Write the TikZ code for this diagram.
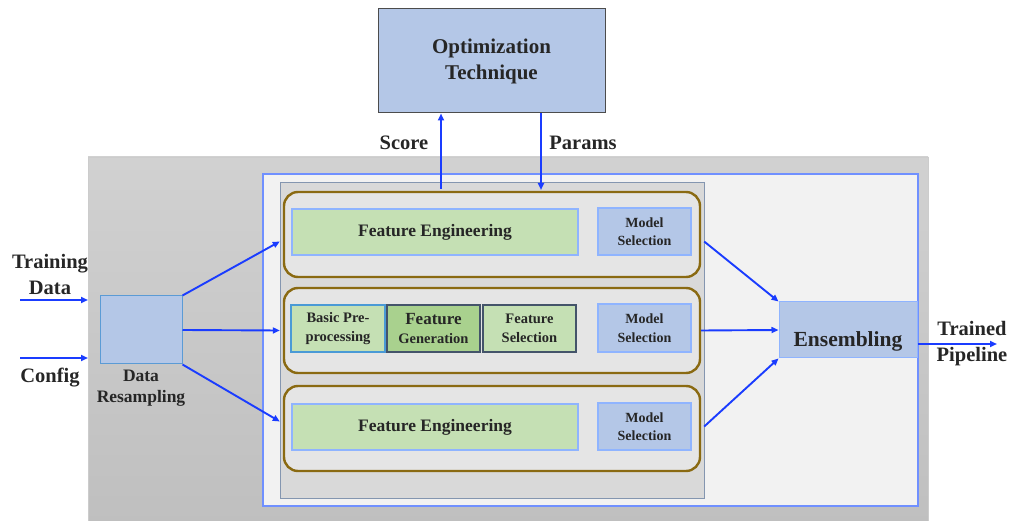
\documentclass[tikz,border=0pt]{standalone}
\usepackage{fontspec}
\setmainfont{Liberation Serif}
\usetikzlibrary{arrows.meta,calc}
\definecolor{txt}{HTML}{262626}
\definecolor{arrowblue}{HTML}{1A3CFF}
\definecolor{panelbd}{HTML}{7090FF}
\definecolor{panelfill}{HTML}{F2F2F2}
\definecolor{innerfill}{HTML}{D9D9D9}
\definecolor{innerbd}{HTML}{8496B0}
\definecolor{rowbd}{HTML}{8A6A12}
\definecolor{rowfill}{HTML}{E5E5E5}
\definecolor{lgreen}{HTML}{C5E0B4}
\definecolor{dgreen}{HTML}{A9D18E}
\definecolor{lblue}{HTML}{B4C7E7}
\definecolor{lbluebd}{HTML}{8FB4FF}
\definecolor{slatebd}{HTML}{44546A}
\definecolor{cyanbd}{HTML}{4A9AD6}
\definecolor{drbd}{HTML}{5B9BD5}
\tikzset{
  box/.style={draw, line width=1.2pt, inner sep=0pt, align=center, text=txt, font=\bfseries},
  rowbox/.style={draw=rowbd, fill=rowfill, line width=2.4pt, rounded corners=14pt, minimum width=416pt, minimum height=85pt, inner sep=0pt},
  febox/.style={box, draw=lbluebd, fill=lgreen, minimum width=286pt, minimum height=46pt, font=\bfseries\fontsize{17.5}{20}\selectfont},
  msbox/.style={box, draw=lbluebd, fill=lblue, minimum width=93pt, minimum height=47pt, font=\bfseries\fontsize{14}{18.5}\selectfont},
  smallbox/.style={box, minimum width=93pt, minimum height=47pt, font=\bfseries\fontsize{14.5}{19}\selectfont},
  lbl/.style={text=txt, align=center, inner sep=0pt, font=\bfseries\fontsize{20.5}{26}\selectfont},
  flow/.style={draw=arrowblue, line width=1.9pt, -{Triangle[length=7pt,width=6pt]}}
}
\begin{document}
\begin{tikzpicture}[x=1pt,y=-1pt]
\useasboundingbox (0,0) rectangle (1013,521);
% background panels
\shade[top color=black!18, bottom color=black!25] (88,157) rectangle (928,521);
\draw[draw=black!20, line width=0.6pt] (88,521) -- (88,157) -- (928,157) -- (928,521);
\draw[draw=panelbd, fill=panelfill, line width=1.5pt] (263,174) rectangle (918,506);
\draw[draw=innerbd, fill=innerfill, line width=1pt] (280,183) rectangle (704,498);
% optimization
\node[box, draw=black!70, fill=lblue, minimum width=227pt, minimum height=104pt, line width=1pt, font=\bfseries\fontsize{21}{26}\selectfont] (opt) at (491.5,61) {Optimization\\Technique};
% rows
\node[rowbox] (row1) at (492,234.5) {};
\node[rowbox] (row2) at (492,330.5) {};
\node[rowbox] (row3) at (492,428.5) {};
\node[febox] (fe1) at (435,232) {Feature Engineering};
\node[msbox] (ms1) at (644.5,231.5) {Model\\Selection};
\node[smallbox, draw=cyanbd, fill=lgreen, minimum width=94pt] (bp) at (338,328.5) {Basic Pre-\\processing};
\node[smallbox, draw=slatebd, fill=dgreen] (fg) at (433.5,328.5) {{\fontsize{17}{19}\selectfont Feature}\\Generation};
\node[smallbox, draw=slatebd, fill=lgreen] (fs) at (529.5,328.5) {Feature\\Selection};
\node[msbox, minimum height=48pt] (ms2) at (644.5,328) {Model\\Selection};
\node[febox] (fe3) at (435,427) {Feature Engineering};
\node[msbox] (ms3) at (644.5,426.5) {Model\\Selection};
% data resampling and ensembling
\node[box, draw=drbd, fill=lblue, minimum width=82pt, minimum height=68pt, line width=1pt] (dr) at (141,330) {};
\node[lbl, font=\bfseries\fontsize{17.5}{21}\selectfont] (drl) at (141,388) {Data\\Resampling};
\node[box, draw=lbluebd, fill=lblue, minimum width=138pt, text height=45pt, text depth=11pt, line width=1pt, font=\bfseries\fontsize{21.5}{24}\selectfont] (ens) at (848,330) {Ensembling};
% labels
\node[lbl] (tdl) at (50,274) {Training\\Data};
\node[lbl] (cfl) at (50,378) {Config};
\node[lbl] (scl) at (404,143) {Score};
\node[lbl] (pal) at (583,143) {Params};
\node[lbl] (tpl) at (972,344) {Trained\\Pipeline};
% coordinates
\coordinate (tdin) at (20,300);
\coordinate (tdend) at (88,300);
\coordinate (cfin) at (20,358);
\coordinate (cfend) at (88,358);
\coordinate (scs) at (441,189);
\coordinate (pae) at (541,190);
\coordinate (outp) at (997,344);
% connectors
\draw[flow] (tdin) -- (tdend);
\draw[flow] (cfin) -- (cfend);
\draw[flow] (dr.north east) -- ($(row1.west)+(-3,7)$);
\draw[flow] (dr.east) -- ($(row2.west)+(-3,0)$);
\draw[flow] (dr.south east) -- ($(row3.west)+(-3,-7)$);
\draw[flow] ($(row1.east)+(3,7)$) -- (ens.north west);
\draw[flow] (row2.east) -- (ens.west);
\draw[flow] ($(row3.east)+(3,-2)$) -- (ens.south west);
\draw[flow] (ens.east |- outp) -- (outp);
\draw[flow] (scs) -- (opt.south -| scs);
\draw[flow] (opt.south -| pae) -- (pae);
\end{tikzpicture}
\end{document}
